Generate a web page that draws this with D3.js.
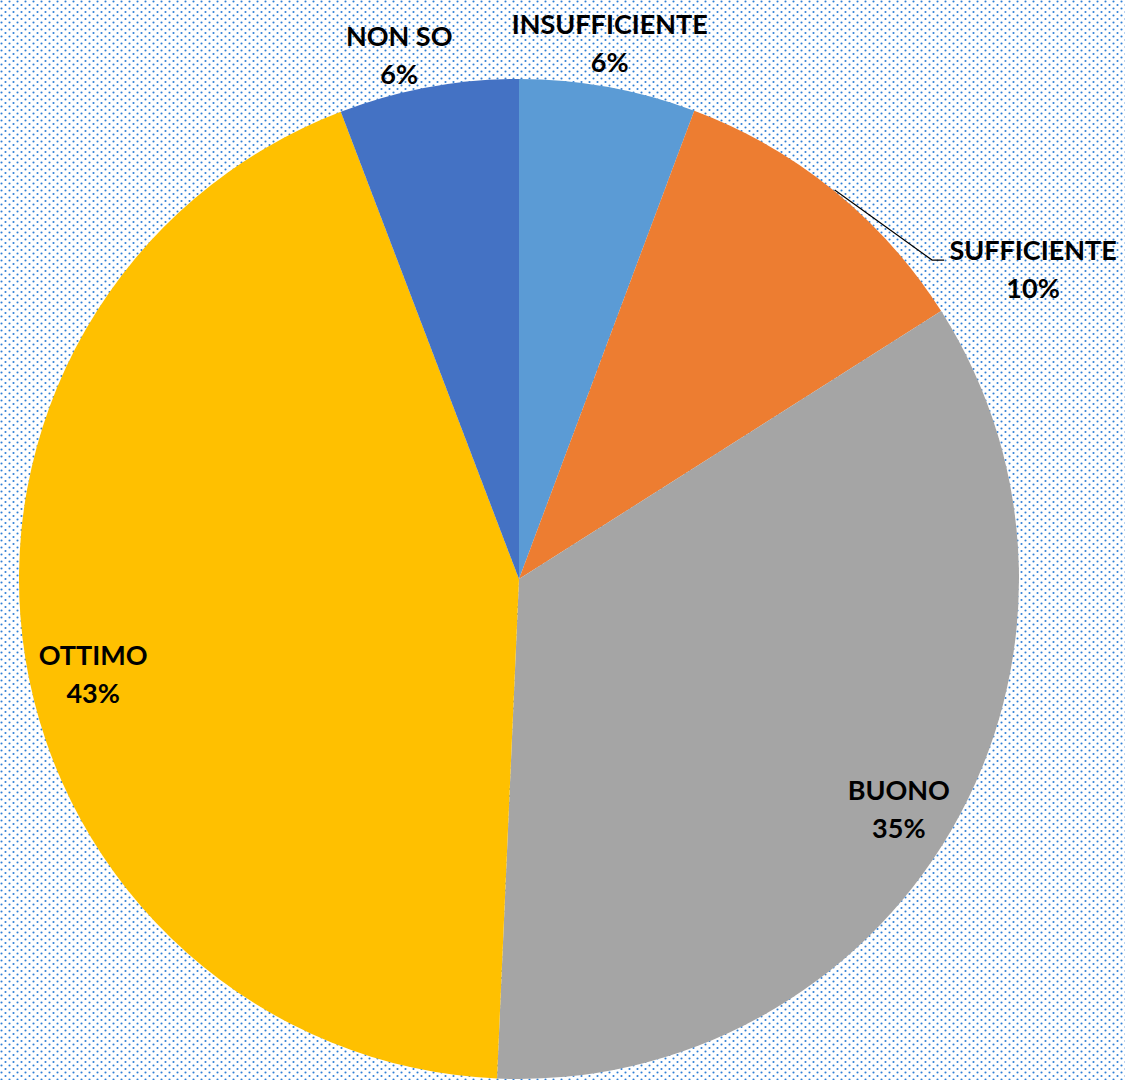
<!DOCTYPE html>
<html>
<head>
<meta charset="utf-8">
<script src="https://cdn.jsdelivr.net/npm/d3@7"></script>
<style>
  html, body { margin: 0; padding: 0; background: #fff; }
  svg { display: block; }
</style>
</head>
<body>
<svg id="chart" width="1125" height="1080"></svg>
<script>
// Data
const categories = ["INSUFFICIENTE", "SUFFICIENTE", "BUONO", "OTTIMO", "NON SO"];
const values = [5.7, 10.3, 34.7, 43.5, 5.8];
const percentLabels = ["6%", "10%", "35%", "43%", "6%"];
const colors = ["#5B9BD5", "#ED7D31", "#A5A5A5", "#FFC000", "#4472C4"];

const W = 1125, H = 1080;
const cx = 519, cy = 579, R = 500;

const svg = d3.select("#chart");

// Background dotted pattern
const defs = svg.append("defs");
const pat = defs.append("pattern")
  .attr("id", "dots")
  .attr("patternUnits", "userSpaceOnUse")
  .attr("width", 8).attr("height", 7);
pat.append("rect").attr("width", 8).attr("height", 7).attr("fill", "#ffffff");
[[1.5, 1.5], [5.5, 5]].forEach(([x, y]) => {
  pat.append("circle").attr("cx", x).attr("cy", y).attr("r", 1.05).attr("fill", "#2f7fd6");
});
svg.append("rect").attr("width", W).attr("height", H).attr("fill", "url(#dots)");

const data = categories.map((c, i) => ({ cat: c, value: values[i], pct: percentLabels[i], color: colors[i] }));

const pie = d3.pie().value(d => d.value).sort(null);
const arcs = pie(data);
const arc = d3.arc().innerRadius(0).outerRadius(R);

const g = svg.append("g").attr("transform", `translate(${cx},${cy})`);

g.selectAll("path.slice")
  .data(arcs)
  .join("path")
  .attr("class", "slice")
  .attr("d", arc)
  .attr("fill", d => d.data.color);

function polar(angle, r) {
  return [r * Math.sin(angle), -r * Math.cos(angle)];
}

// Label layout (angle offset from slice middle, radius factor) per label
const labelLayout = {
  "INSUFFICIENTE": { da: -0.011, rf: 1.085 },
  "SUFFICIENTE":   { da: 0.348,  rf: 1.1995, leader: true },
  "BUONO":         { da: 0.0216, rf: 0.889 },
  "OTTIMO":        { da: -0.061, rf: 0.873 },
  "NON SO":        { da: -0.043, rf: 1.073 }
};

const fontFamily = "Lato, 'Open Sans', sans-serif";
const lineGap = 38;

arcs.forEach(d => {
  const mid = (d.startAngle + d.endAngle) / 2;
  const lay = labelLayout[d.data.cat];
  const pos = polar(mid + lay.da, R * lay.rf);
  if (lay.leader) {
    const start = polar(mid, R + 1);
    const endX = pos[0] - 89;
    const elbowY = pos[1] - 10;
    g.append("polyline")
      .attr("points", `${start[0]},${start[1]} ${endX - 12},${elbowY} ${endX},${elbowY}`)
      .attr("fill", "none")
      .attr("stroke", "#000")
      .attr("stroke-width", 1.2);
  }
  const t = g.append("text")
    .attr("x", pos[0])
    .attr("y", pos[1])
    .attr("text-anchor", "middle")
    .attr("font-family", fontFamily)
    .attr("font-weight", "bold")
    .attr("font-size", 27)
    .attr("fill", "#000");
  t.append("tspan").attr("x", pos[0]).attr("dy", -10).text(d.data.cat);
  t.append("tspan").attr("x", pos[0]).attr("dy", lineGap).text(d.data.pct);
});
</script>
</body>
</html>
